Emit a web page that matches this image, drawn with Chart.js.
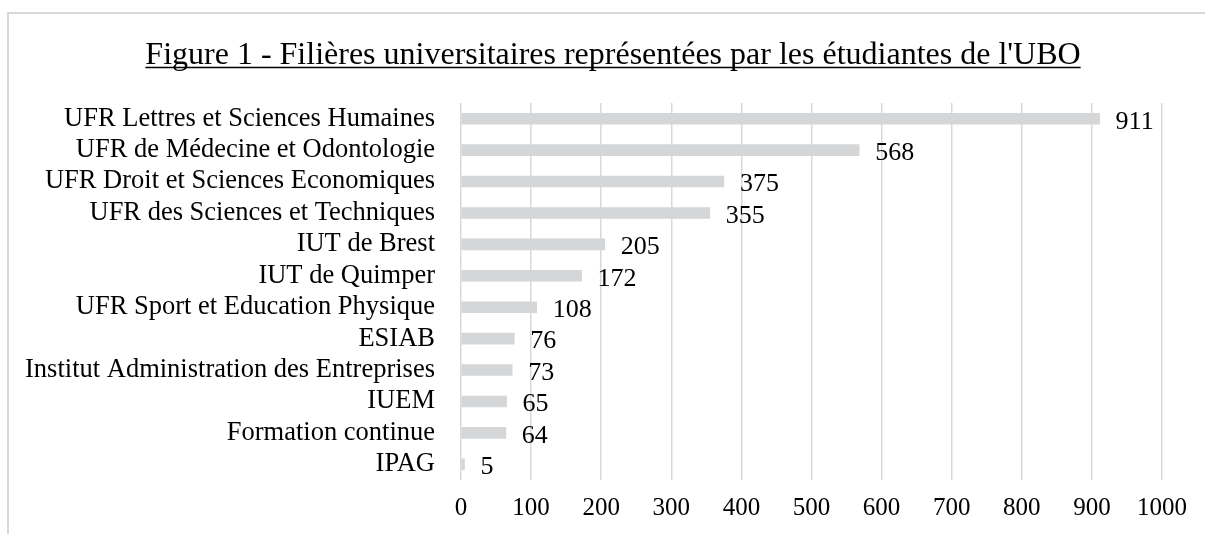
<!DOCTYPE html>
<html><head><meta charset="utf-8">
<script src="https://cdn.jsdelivr.net/npm/chart.js@4/dist/chart.umd.min.js"></script>
<style>html,body{margin:0;padding:0;background:#fff;}canvas{display:block;}</style>
</head><body>
<canvas id="c" width="1205" height="534"></canvas>
<script>
const titleText = "Figure 1 - Filières universitaires représentées par les étudiantes de l'UBO";
const categories = [
  "UFR Lettres et Sciences Humaines",
  "UFR de Médecine et Odontologie",
  "UFR Droit et Sciences Economiques",
  "UFR des Sciences et Techniques",
  "IUT de Brest",
  "IUT de Quimper",
  "UFR Sport et Education Physique",
  "ESIAB",
  "Institut Administration des Entreprises",
  "IUEM",
  "Formation continue",
  "IPAG"
];
const values = [911, 568, 375, 355, 205, 172, 108, 76, 73, 65, 64, 5];
const xMin = 0, xMax = 1000, xStep = 100;

const FONT = "'Liberation Serif', 'Times New Roman', serif";

const decor = {
  id: 'decor',
  beforeDraw(chart) {
    const ctx = chart.ctx;
    ctx.save();
    ctx.strokeStyle = '#d9d9d9';
    ctx.lineWidth = 2;
    ctx.beginPath();
    ctx.moveTo(8, 534); ctx.lineTo(8, 13); ctx.lineTo(1205, 13);
    ctx.stroke();
    ctx.restore();
  },
  afterDatasetsDraw(chart) {
    const ctx = chart.ctx;
    const meta = chart.getDatasetMeta(0);
    ctx.save();
    ctx.font = "26px " + FONT;
    ctx.fillStyle = '#000';
    ctx.textAlign = 'left';
    ctx.textBaseline = 'middle';
    meta.data.forEach((bar, i) => {
      ctx.fillText(String(values[i]), bar.x + 16, bar.y + 3);
    });
    ctx.restore();
  },
  afterDraw(chart) {
    const ctx = chart.ctx;
    ctx.save();
    ctx.font = "32px " + FONT;
    ctx.fillStyle = '#000';
    ctx.textAlign = 'center';
    ctx.textBaseline = 'alphabetic';
    const cx = 613, by = 64;
    ctx.fillText(titleText, cx, by);
    const w = ctx.measureText(titleText).width;
    ctx.strokeStyle = '#000';
    ctx.lineWidth = 1.5;
    ctx.beginPath();
    ctx.moveTo(cx - w / 2, by + 3.5); ctx.lineTo(cx + w / 2, by + 3.5);
    ctx.stroke();
    ctx.restore();
  }
};

new Chart(document.getElementById('c'), {
  type: 'bar',
  data: {
    labels: categories,
    datasets: [{
      data: values,
      backgroundColor: '#d5d6d8',
      barThickness: 11
    }]
  },
  options: {
    indexAxis: 'y',
    responsive: false,
    animation: false,
    layout: { padding: { top: 103, right: 43, bottom: 0, left: 0 } },
    plugins: { legend: { display: false }, title: { display: false }, tooltip: { enabled: false } },
    scales: {
      x: {
        min: xMin, max: xMax,
        ticks: { stepSize: xStep, font: { family: FONT, size: 25 }, color: '#000', padding: 13, maxRotation: 0,
                 callback: (v) => String(v) },
        grid: { color: '#d9d9d9', lineWidth: 1.5, drawTicks: false },
        border: { display: false },
        afterFit(s) { s.height = 54; }
      },
      y: {
        ticks: { font: { family: FONT, size: 26.5 }, color: '#000', padding: 18, autoSkip: false },
        grid: { display: false },
        border: { display: false },
        afterFit(s) { s.width = 461; }
      }
    }
  },
  plugins: [decor]
});
</script>
</body></html>
